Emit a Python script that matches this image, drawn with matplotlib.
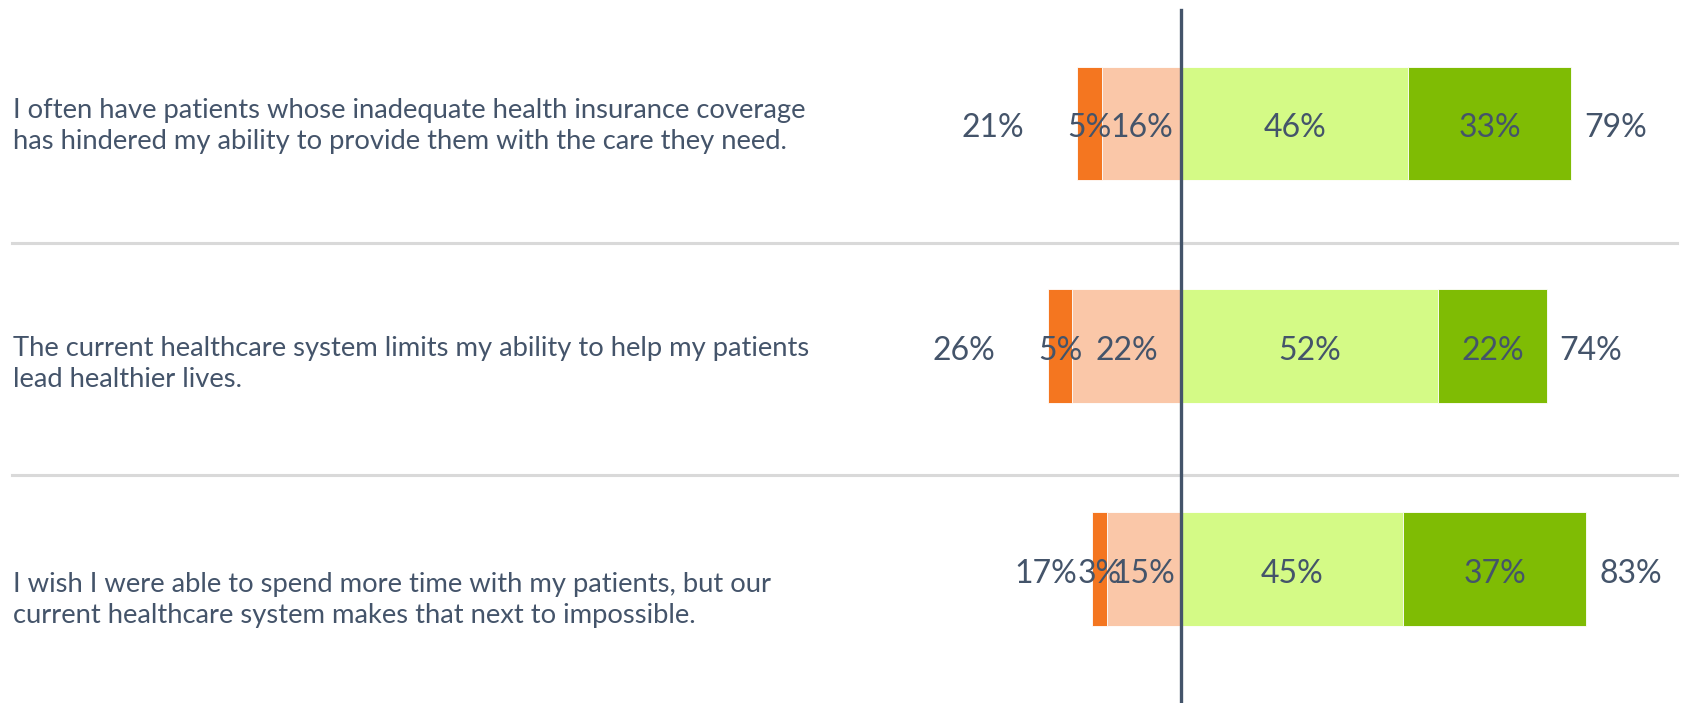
import matplotlib
matplotlib.use("Agg")
import matplotlib.pyplot as plt
from matplotlib.transforms import blended_transform_factory

statements = [
    "I often have patients whose inadequate health insurance coverage\nhas hindered my ability to provide them with the care they need.",
    "The current healthcare system limits my ability to help my patients\nlead healthier lives.",
    "I wish I were able to spend more time with my patients, but our\ncurrent healthcare system makes that next to impossible.",
]
strongly_disagree = [5, 5, 3]
somewhat_disagree = [16, 22, 15]
somewhat_agree = [46, 52, 45]
strongly_agree = [33, 22, 37]
total_disagree = [21, 26, 17]
total_agree = [79, 74, 83]

c_sd = "#F47620"
c_swd = "#FAC7A8"
c_swa = "#D4FA86"
c_sa = "#7FBC04"
txt = "#44546A"

plt.rcParams["font.family"] = ["Lato", "DejaVu Sans"]

fig = plt.figure(figsize=(16.84, 7.03), dpi=100)
ax = fig.add_axes([0, 0, 1, 1])
ax.set_xlim(-239.1, 101.8)
ax.set_ylim(2.601, -0.554)
ax.axis("off")

rows = range(len(statements))
bh = 0.51
fs = 23
dy = 0.02  # nudge the numbers a touch below bar centre
for i in rows:
    sd, swd = strongly_disagree[i], somewhat_disagree[i]
    swa, sa = somewhat_agree[i], strongly_agree[i]
    ax.barh(i, -swd, height=bh, color=c_swd, edgecolor="white", linewidth=0.6)
    ax.barh(i, -sd, left=-swd, height=bh, color=c_sd, edgecolor="white", linewidth=0.6)
    ax.barh(i, swa, height=bh, color=c_swa, edgecolor="white", linewidth=0.6)
    ax.barh(i, sa, left=swa, height=bh, color=c_sa, edgecolor="white", linewidth=0.6)

    ax.text(-swd - sd / 2, i + dy, f"{sd}%", ha="center", va="center", fontsize=fs, color=txt)
    ax.text(-swd / 2, i + dy, f"{swd}%", ha="center", va="center", fontsize=fs, color=txt)
    ax.text(swa / 2, i + dy, f"{swa}%", ha="center", va="center", fontsize=fs, color=txt)
    ax.text(swa + sa / 2, i + dy, f"{sa}%", ha="center", va="center", fontsize=fs, color=txt)

# net totals either side of the bars
left_gap = [10.7, 10.7, 3.0]
for i in rows:
    left_end = -(strongly_disagree[i] + somewhat_disagree[i])
    ax.text(left_end - left_gap[i], i + dy, f"{total_disagree[i]}%", ha="right", va="center",
            fontsize=fs, color=txt)
    right_end = somewhat_agree[i] + strongly_agree[i]
    ax.text(right_end + 2.6, i + dy, f"{total_agree[i]}%", ha="left", va="center",
            fontsize=fs, color=txt)

# statement text on the left
text_shift = [0.01, 0.08, 0.14]
trans = blended_transform_factory(ax.transAxes, ax.transData)
for i in rows:
    ax.text(13 / 1684, i + text_shift[i], statements[i], transform=trans,
            ha="left", va="center", fontsize=19.7, color=txt, linespacing=1.3)

for y in [0.536, 1.58]:
    ax.axhline(y, xmin=12 / 1684, xmax=0.996, color="#D9D9D9", linewidth=2.2, zorder=0)

ax.axvline(0, ymin=0, ymax=1 - 10 / 703, color=txt, linewidth=2.4, zorder=5)

fig.savefig("out.png", dpi=100)
